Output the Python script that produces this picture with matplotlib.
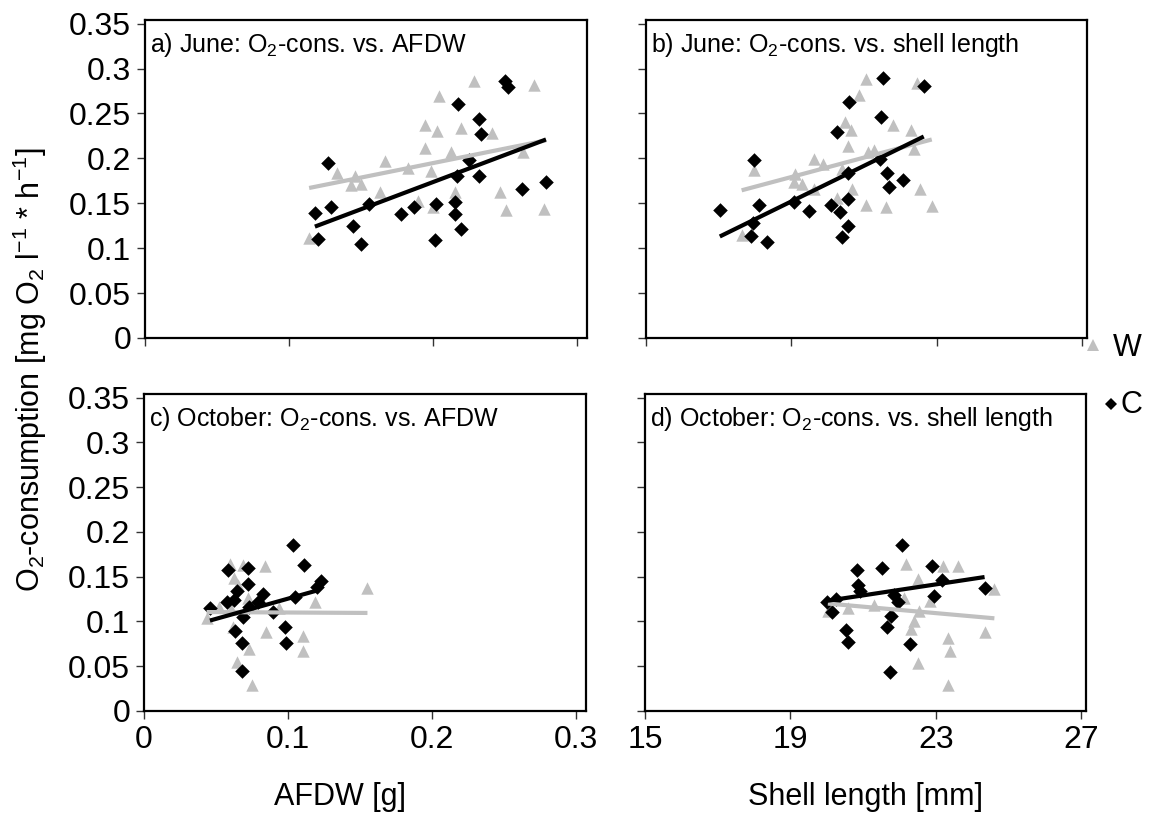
import numpy as np
import matplotlib
matplotlib.use("Agg")
import matplotlib.pyplot as plt
from matplotlib.lines import Line2D

plt.rcParams['font.family'] = ['Liberation Sans', 'DejaVu Sans']
plt.rcParams['mathtext.default'] = 'regular'

# ---------------- data ----------------
# a) June, AFDW [g] vs O2-consumption
juneW_afdw = [0.204, 0.1946, 0.203, 0.2194, 0.2412, 0.1946, 0.2126, 0.1667, 0.1826, 0.1989,
              0.1332, 0.1457, 0.1432, 0.1499, 0.163, 0.2626, 0.2463, 0.2508, 0.2769, 0.2156,
              0.1898, 0.2003, 0.1141, 0.2699, 0.2285]
juneW_o2a = [0.269, 0.2376, 0.230, 0.2343, 0.2284, 0.2114, 0.207, 0.1966, 0.1896, 0.1859,
             0.1837, 0.1803, 0.170, 0.1711, 0.1626, 0.207, 0.1622, 0.1423, 0.1441, 0.1626,
             0.153, 0.1463, 0.1116, 0.2816, 0.286]
juneC_afdw = [0.2176, 0.2321, 0.2331, 0.1273, 0.2251, 0.2167, 0.2321, 0.2785, 0.2622, 0.1178,
              0.1294, 0.1553, 0.178, 0.1866, 0.2021, 0.2153, 0.2153, 0.2194, 0.1448, 0.1205,
              0.1499, 0.2012, 0.2497, 0.2524]
juneC_o2a = [0.2605, 0.2439, 0.2273, 0.195, 0.1984, 0.1803, 0.1803, 0.1737, 0.1663, 0.1397,
             0.1463, 0.1493, 0.1378, 0.1456, 0.1493, 0.1515, 0.1378, 0.1212, 0.1249, 0.1101,
             0.105, 0.109, 0.286, 0.279]

# b) June, shell length [mm] vs O2-consumption
juneW_len = [20.85, 20.47, 20.63, 21.80, 22.29, 20.56, 21.12, 21.28, 22.38, 19.61,
             19.88, 17.98, 19.11, 19.07, 19.29, 20.40, 19.63, 20.67, 22.53, 20.24,
             21.05, 21.61, 22.88, 17.65, 21.04, 22.45]
juneW_o2b = [0.271, 0.240, 0.232, 0.237, 0.231, 0.214, 0.207, 0.2095, 0.2106, 0.199,
             0.194, 0.1866, 0.183, 0.1737, 0.1718, 0.1877, 0.1656, 0.1656, 0.1656, 0.1563,
             0.1478, 0.146, 0.1471, 0.1145, 0.288, 0.284]
juneC_len = [20.58, 21.46, 20.24, 22.64, 17.96, 21.44, 20.56, 21.62, 22.07, 21.69,
             19.07, 18.12, 19.47, 20.10, 20.56, 20.33, 17.94, 17.89, 18.34, 20.56,
             20.40, 17.03, 21.53]
juneC_o2b = [0.263, 0.246, 0.2298, 0.281, 0.1977, 0.1996, 0.1837, 0.1837, 0.1763, 0.1682,
             0.1515, 0.1486, 0.1411, 0.1486, 0.1544, 0.1404, 0.1275, 0.1134, 0.1072, 0.1245,
             0.112, 0.143, 0.289]

# c) October, AFDW [g] vs O2-consumption
octW_afdw = [0.0597, 0.0685, 0.084, 0.0622, 0.065, 0.072, 0.0518, 0.0604, 0.0435, 0.0939,
             0.1187, 0.1548, 0.0616, 0.0847, 0.1106, 0.1106, 0.0727, 0.0643, 0.0747]
octW_o2c = [0.1638, 0.1632, 0.1621, 0.1485, 0.1412, 0.1265, 0.1163, 0.1138, 0.1035, 0.1145,
            0.1218, 0.1368, 0.0936, 0.0881, 0.0834, 0.0673, 0.0688, 0.0545, 0.0285]
octC_afdw = [0.1032, 0.1113, 0.1228, 0.1205, 0.1048, 0.0581, 0.0724, 0.0724, 0.0643, 0.0828,
             0.0576, 0.0627, 0.0793, 0.0731, 0.0458, 0.0689, 0.0893, 0.0978, 0.0985, 0.0634,
             0.068, 0.068]
octC_o2c = [0.1851, 0.1632, 0.1449, 0.1383, 0.1273, 0.157, 0.1602, 0.1419, 0.1339, 0.1302,
            0.1222, 0.1237, 0.1222, 0.1163, 0.1145, 0.1053, 0.1108, 0.0936, 0.076, 0.0889,
            0.076, 0.0442]

# d) October, shell length [mm] vs O2-consumption
octW_len = [22.19, 23.20, 23.60, 22.52, 24.61, 22.12, 22.83, 21.30, 20.58, 20.03,
            22.53, 22.40, 22.33, 24.34, 23.34, 23.40, 22.52, 23.34]
octW_o2d = [0.1639, 0.1621, 0.1621, 0.1478, 0.1364, 0.1265, 0.1229, 0.1182, 0.1145, 0.112,
            0.112, 0.101, 0.0918, 0.0881, 0.0819, 0.0673, 0.0541, 0.0289]
octC_len = [22.08, 20.83, 21.53, 22.90, 23.17, 20.87, 20.91, 24.34, 22.96, 21.85,
            21.96, 20.26, 20.00, 20.15, 21.78, 21.65, 20.53, 20.59, 22.28, 21.73]
octC_o2d = [0.1851, 0.157, 0.1602, 0.1621, 0.146, 0.1412, 0.1339, 0.1375, 0.1284, 0.1291,
            0.1218, 0.1248, 0.1218, 0.1101, 0.1057, 0.0936, 0.09, 0.0771, 0.0753, 0.0436]

# linear trend lines (start/end values)
trendW_a_x = [0.114, 0.2785];  trendW_a_y = [0.167, 0.220]
trendC_a_x = [0.118, 0.2785];  trendC_a_y = [0.124, 0.221]
trendW_b_x = [17.63, 22.86];   trendW_b_y = [0.1644, 0.221]
trendC_b_x = [17.03, 22.64];   trendC_b_y = [0.113, 0.2243]
trendW_c_x = [0.0435, 0.1552]; trendW_c_y = [0.1105, 0.1095]
trendC_c_x = [0.0458, 0.1205]; trendC_c_y = [0.101, 0.1347]
trendW_d_x = [20.03, 24.61];   trendW_d_y = [0.120, 0.1035]
trendC_d_x = [20.00, 24.34];   trendC_d_y = [0.123, 0.1496]

y_ticks = [0, 0.05, 0.1, 0.15, 0.2, 0.25, 0.3, 0.35]
y_ticklabels = ['0', '0.05', '0.1', '0.15', '0.2', '0.25', '0.3', '0.35']
afdw_ticks = [0, 0.1, 0.2, 0.3]
afdw_ticklabels = ['0', '0.1', '0.2', '0.3']
len_ticks = [15, 19, 23, 27]
len_ticklabels = ['15', '19', '23', '27']

titles = [r"a) June: O$_2$-cons. vs. AFDW",
          r"b) June: O$_2$-cons. vs. shell length",
          r"c) October: O$_2$-cons. vs. AFDW",
          r"d) October: O$_2$-cons. vs. shell length"]

GREY = '#c0c0c0'
BLACK = '#000000'

W_fig, H_fig = 1159, 834
fig = plt.figure(figsize=(W_fig / 100, H_fig / 100), dpi=100)

def frac(l, t, r, b):
    return [l / W_fig, 1 - b / H_fig, (r - l) / W_fig, (b - t) / H_fig]

axes = [fig.add_axes(frac(145, 20, 587, 338)),
        fig.add_axes(frac(646, 20, 1087, 338)),
        fig.add_axes(frac(144, 394, 586, 711)),
        fig.add_axes(frac(645, 394, 1086, 711))]

panels = [
    (juneW_afdw, juneW_o2a, juneC_afdw, juneC_o2a,
     trendW_a_x, trendW_a_y, trendC_a_x, trendC_a_y),
    (juneW_len, juneW_o2b, juneC_len, juneC_o2b,
     trendW_b_x, trendW_b_y, trendC_b_x, trendC_b_y),
    (octW_afdw, octW_o2c, octC_afdw, octC_o2c,
     trendW_c_x, trendW_c_y, trendC_c_x, trendC_c_y),
    (octW_len, octW_o2d, octC_len, octC_o2d,
     trendW_d_x, trendW_d_y, trendC_d_x, trendC_d_y),
]

for i, (ax, (wx, wy, cx, cy, twx, twy, tcx, tcy)) in enumerate(zip(axes, panels)):
    ax.scatter(wx, wy, marker='^', s=80, color=GREY, linewidths=0, zorder=3)
    ax.scatter(cx, cy, marker='D', s=55, color=BLACK, linewidths=0, zorder=4)
    ax.plot(twx, twy, color=GREY, lw=3.0, solid_capstyle='butt', zorder=5)
    ax.plot(tcx, tcy, color=BLACK, lw=3.0, solid_capstyle='butt', zorder=6)
    ax.set_ylim(0, 0.354)
    ax.set_yticks(y_ticks)
    if i % 2 == 0:
        ax.set_xlim(0, 0.307)
        ax.set_xticks(afdw_ticks)
        ax.set_xticklabels(afdw_ticklabels if i >= 2 else [])
    else:
        ax.set_xlim(15, 27.13)
        ax.set_xticks(len_ticks)
        ax.set_xticklabels(len_ticklabels if i >= 2 else [])
    ax.set_yticklabels(y_ticklabels if i % 2 == 0 else [])
    ax.tick_params(direction='out', length=6, width=1.0, labelsize=23, pad=4,
                   color='#333333')
    for sp in ax.spines.values():
        sp.set_linewidth(1.6)
    ax.text(0.012, 0.965, titles[i], transform=ax.transAxes, va='top', ha='left',
            fontsize=18)

fig.text(30 / W_fig, 1 - 370 / H_fig,
         r"O$_2$-consumption [mg O$_2$ l$^{-1}$ * h$^{-1}$]",
         rotation=90, ha='center', va='center', fontsize=22)
fig.text(340 / W_fig, 1 - 797 / H_fig, "AFDW [g]", ha='center', va='center', fontsize=22)
fig.text(865 / W_fig, 1 - 797 / H_fig, "Shell length [mm]", ha='center', va='center', fontsize=22)

# legend
fig.add_artist(Line2D([1093 / W_fig], [1 - 345 / H_fig], transform=fig.transFigure,
                      marker='^', ms=8.5, color=GREY, markeredgewidth=0, linestyle='none'))
fig.text(1113 / W_fig, 1 - 348 / H_fig, "W", ha='left', va='center', fontsize=22)
fig.add_artist(Line2D([1111 / W_fig], [1 - 404 / H_fig], transform=fig.transFigure,
                      marker='D', ms=6, color=BLACK, markeredgewidth=0, linestyle='none'))
fig.text(1121 / W_fig, 1 - 405 / H_fig, "C", ha='left', va='center', fontsize=22)

fig.savefig("out.png", dpi=100)
